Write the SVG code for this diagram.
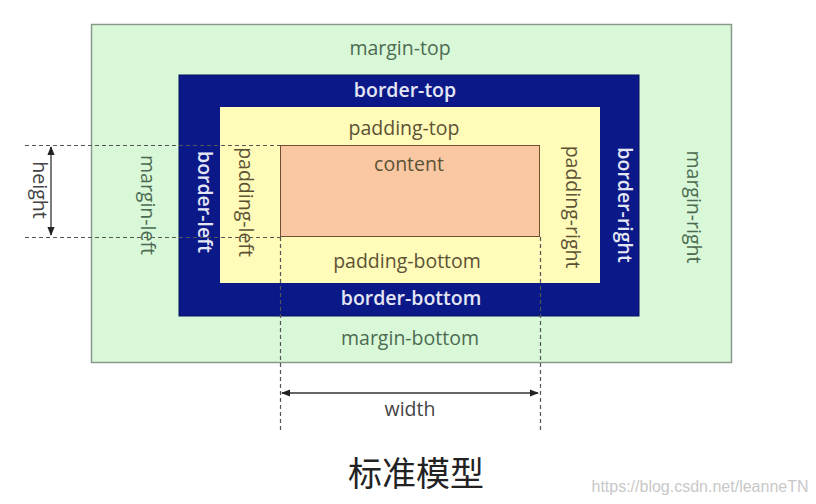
<svg xmlns="http://www.w3.org/2000/svg" width="816" height="504" viewBox="0 0 816 504">
<defs>
<style>
.t{font-family:"Open Sans","Liberation Sans",sans-serif;font-size:19.5px;text-anchor:middle;dominant-baseline:central}
.m{fill:#4d6b52}
.b{fill:#e4e6f4;font-weight:600}
.p{fill:#5c5236}
.d{stroke:#555;stroke-width:1.2;stroke-dasharray:4,3;fill:none}
.a{stroke:#333;stroke-width:1.3;fill:none;marker-start:url(#as);marker-end:url(#ae)}
</style>
<marker id="ae" viewBox="0 0 10 10" refX="9" refY="5" markerWidth="7" markerHeight="7" orient="auto"><path d="M0,1 L10,5 L0,9 Z" fill="#222"/></marker>
<marker id="as" viewBox="0 0 10 10" refX="1" refY="5" markerWidth="7" markerHeight="7" orient="auto"><path d="M10,1 L0,5 L10,9 Z" fill="#222"/></marker>
</defs>
<rect width="816" height="504" fill="#fff"/>
<g id="margin">
<rect x="91.5" y="24.5" width="640" height="338" fill="#d8f8d8" stroke="#8a9a8a" stroke-width="1.5"/>
<text class="t m" x="400" y="47">margin-top</text>
<text class="t m" x="410" y="337">margin-bottom</text>
<text class="t m" transform="translate(148,205) rotate(90)">margin-left</text>
<text class="t m" transform="translate(694,207) rotate(90)">margin-right</text>
</g>
<g id="border">
<rect x="179" y="75" width="460" height="241" fill="#0a1888" stroke="#061060" stroke-width="1"/>
<text class="t b" x="405" y="89">border-top</text>
<text class="t b" x="411" y="297">border-bottom</text>
<text class="t b" transform="translate(205,202) rotate(90)">border-left</text>
<text class="t b" transform="translate(625,205) rotate(90)">border-right</text>
</g>
<g id="padding">
<rect x="220" y="107" width="380" height="176" fill="#fffbb8"/>
<text class="t p" x="404" y="127">padding-top</text>
<text class="t p" x="407" y="260">padding-bottom</text>
<text class="t p" transform="translate(246,202) rotate(90)">padding-left</text>
<text class="t p" transform="translate(573,207) rotate(90)">padding-right</text>
</g>
<g id="content">
<rect x="280.5" y="145.5" width="259" height="91" fill="#f9c8a2" stroke="#6e5030" stroke-width="1"/>
<text class="t p" x="409" y="163">content</text>
</g>
<g id="connectors">
<path class="d" d="M25,145.5 H280 M25,237.5 H280 M280.5,237 V430 M540.5,237 V430"/>
<path class="a" d="M51,147 V235"/>
<path class="a" d="M282,393 H538"/>
</g>
<g id="labels">
<text class="t" fill="#444" transform="translate(40,190) rotate(90)">height</text>
<text class="t" fill="#444" x="410" y="408">width</text>
<text x="416" y="486" font-family="'Noto Sans CJK SC',sans-serif" font-size="34" fill="#222" text-anchor="middle">标准模型</text>
<text x="700" y="492" font-family="'Liberation Sans',sans-serif" font-size="16" fill="#c8c8c8" text-anchor="middle">https://blog.csdn.net/leanneTN</text>
</g>
</svg>
